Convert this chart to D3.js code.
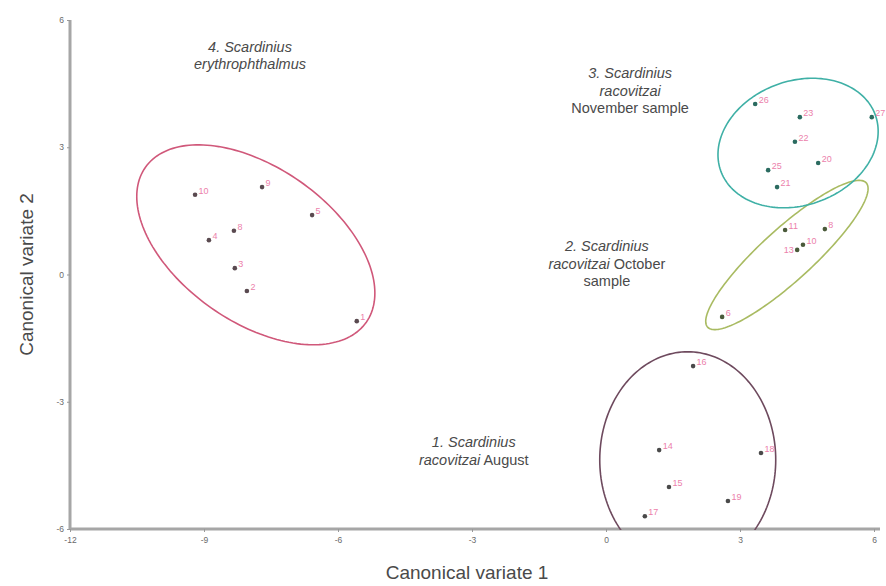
<!DOCTYPE html>
<html>
<head>
<meta charset="utf-8">
<script src="https://cdn.jsdelivr.net/npm/d3@7"></script>
<style>
  html, body { margin: 0; padding: 0; background: #ffffff; }
  svg { display: block; font-family: "Liberation Sans", Arial, sans-serif; }
</style>
</head>
<body>
<svg id="chart" width="886" height="586"></svg>
<script>
// ---------------- data ----------------
const xTicks = [-12, -9, -6, -3, 0, 3, 6];
const yTicks = [-6, -3, 0, 3, 6];
const xTitle = "Canonical variate 1";
const yTitle = "Canonical variate 2";

// group 1: S. racovitzai August
const group1Points = [
  {x: 1.95, y: -2.16, id: "16"},
  {x: 1.19, y: -4.14, id: "14"},
  {x: 3.47, y: -4.21, id: "18"},
  {x: 1.41, y: -5.01, id: "15"},
  {x: 2.73, y: -5.34, id: "19"},
  {x: 0.87, y: -5.70, id: "17"}
];
// group 2: S. racovitzai October
const group2Points = [
  {x: 4.01, y: 1.05, id: "11"},
  {x: 4.90, y: 1.07, id: "8"},
  {x: 4.28, y: 0.58, id: "13", left: true},
  {x: 4.41, y: 0.70, id: "10"},
  {x: 2.60, y: -1.00, id: "6"}
];
// group 3: S. racovitzai November
const group3Points = [
  {x: 3.34, y: 4.02, id: "26"},
  {x: 4.34, y: 3.71, id: "23"},
  {x: 5.95, y: 3.71, id: "27"},
  {x: 4.23, y: 3.13, id: "22"},
  {x: 4.75, y: 2.63, id: "20"},
  {x: 3.63, y: 2.46, id: "25"},
  {x: 3.83, y: 2.06, id: "21"}
];
// group 4: S. erythrophthalmus
const group4Points = [
  {x: -9.20, y: 1.88, id: "10"},
  {x: -7.70, y: 2.06, id: "9"},
  {x: -6.58, y: 1.40, id: "5"},
  {x: -8.89, y: 0.81, id: "4"},
  {x: -8.33, y: 1.03, id: "8"},
  {x: -8.31, y: 0.15, id: "3"},
  {x: -8.04, y: -0.39, id: "2"},
  {x: -5.58, y: -1.10, id: "1"}
];

// confidence ellipses: centre (data), semi-axes (x-axis units), rotation (deg)
const ellipseCentres = [[1.83, -4.37], [4.05, 0.46], [4.30, 3.10], [-7.84, 0.70]];
const ellipseAxes    = [[1.97, 2.42], [2.40, 0.58], [1.84, 1.39], [3.02, 1.73]];
const ellipseAngles  = [0, -42.3, -20, 35];

// group annotations: anchor (data) and lines [text, italic]
const annotationAnchors = [[-2.96, -3.95], [0.02, 0.67], [0.54, 4.75], [-7.97, 5.37]];
const annotationLines = [
  [[["1. Scardinius", true]], [["racovitzai", true], [" August", false]]],
  [[["2. Scardinius", true]], [["racovitzai", true], [" October", false]], [["sample", false]]],
  [[["3. Scardinius", true]], [["racovitzai", true]], [["November sample", false]]],
  [[["4. Scardinius", true]], [["erythrophthalmus", true]]]
];

// ---------------- drawing ----------------
const groups = [group1Points, group2Points, group3Points, group4Points];
const ellipseColors = ["#6e4a5e", "#a9bb62", "#3fb0a6", "#d0587a"];
const dotColors = ["#4a4a4a", "#4a5a3a", "#2b6b60", "#5a4a50"];
const labelColor = "#ec7fab";

const svg = d3.select("#chart");
const x = d3.scaleLinear().domain([-12, 6]).range([70, 874]);
const y = d3.scaleLinear().domain([-6, 6]).range([529, 20]);
const kx = x(1) - x(0);

svg.append("defs").append("clipPath").attr("id", "plotClip")
  .append("rect").attr("x", 70).attr("y", 0).attr("width", 816).attr("height", 530);

// axes
const axisColor = "#a6a6a6";
const gx = svg.append("g").attr("transform", `translate(0,${y(-6)})`)
  .call(d3.axisBottom(x).tickValues(xTicks).tickSize(3).tickSizeOuter(0).tickFormat(d3.format("d")));
gx.select(".domain").attr("stroke", axisColor).attr("stroke-width", 3)
  .attr("d", `M${x(-12)},0H880`);
gx.selectAll(".tick line").attr("stroke", "#999").attr("stroke-width", 1);
gx.selectAll(".tick text").attr("fill", "#6a6a6a").attr("font-size", 8.5).attr("dy", "0.9em")
  .text(d => d < 0 ? "-" + Math.abs(d) : d);

const gy = svg.append("g").attr("transform", `translate(${x(-12)},0)`)
  .call(d3.axisLeft(y).tickValues(yTicks).tickSize(3).tickSizeOuter(0).tickFormat(d3.format("d")));
gy.select(".domain").attr("stroke", axisColor).attr("stroke-width", 3)
  .attr("d", `M0,${y(6)}V${y(-6)}`);
gy.selectAll(".tick line").attr("stroke", "#999").attr("stroke-width", 1);
gy.selectAll(".tick text").attr("fill", "#6a6a6a").attr("font-size", 8.5)
  .text(d => d < 0 ? "-" + Math.abs(d) : d);

// axis titles
svg.append("text").attr("x", 467).attr("y", 579).attr("text-anchor", "middle")
  .attr("font-size", 19).attr("fill", "#4a4a4a").text(xTitle);
svg.append("text").attr("transform", `translate(33,${y(0)}) rotate(-90)`)
  .attr("text-anchor", "middle").attr("font-size", 19).attr("fill", "#4a4a4a").text(yTitle);

// ellipses
const plot = svg.append("g").attr("clip-path", "url(#plotClip)");
const line = d3.line().curve(d3.curveLinearClosed);
ellipseCentres.forEach((c, i) => {
  const cx = x(c[0]), cy = y(c[1]);
  const A = ellipseAxes[i][0] * kx, B = ellipseAxes[i][1] * kx;
  const th = ellipseAngles[i] * Math.PI / 180;
  const pts = d3.range(0, 360, 2).map(deg => {
    const t = deg * Math.PI / 180;
    return [cx + A * Math.cos(t) * Math.cos(th) - B * Math.sin(t) * Math.sin(th),
            cy + A * Math.cos(t) * Math.sin(th) + B * Math.sin(t) * Math.cos(th)];
  });
  plot.append("path").attr("d", line(pts)).attr("fill", "none")
    .attr("stroke", ellipseColors[i]).attr("stroke-width", 1.6);
});

// points and labels
groups.forEach((pts, i) => {
  const g = svg.append("g");
  g.selectAll("circle").data(pts).join("circle")
    .attr("cx", d => x(d.x)).attr("cy", d => y(d.y)).attr("r", 2.3)
    .attr("fill", dotColors[i]);
  g.selectAll("text").data(pts).join("text")
    .attr("x", d => d.left ? x(d.x) - 3.5 : x(d.x) + 3.5)
    .attr("y", d => d.left ? y(d.y) + 3 : y(d.y) - 1)
    .attr("text-anchor", d => d.left ? "end" : "start")
    .attr("font-size", 9).attr("fill", labelColor).text(d => d.id);
});

// annotations
annotationAnchors.forEach((a, i) => {
  const t = svg.append("text").attr("text-anchor", "middle")
    .attr("font-size", 14.5).attr("fill", "#4a4a4a");
  annotationLines[i].forEach((parts, j) => {
    parts.forEach((p, k) => {
      const ts = t.append("tspan").text(p[0])
        .attr("font-style", p[1] ? "italic" : "normal");
      if (k === 0) ts.attr("x", x(a[0])).attr("y", y(a[1]) + 5 + j * 17.5);
    });
  });
});
</script>
</body>
</html>
